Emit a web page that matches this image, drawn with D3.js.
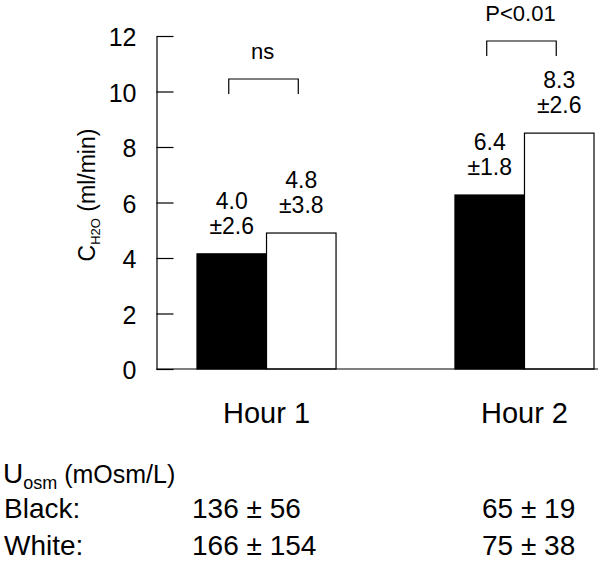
<!DOCTYPE html>
<html>
<head>
<meta charset="utf-8">
<script src="https://cdn.jsdelivr.net/npm/d3@7"></script>
<style>
  body { margin: 0; background: #fff; }
  svg { display: block; font-family: "Liberation Sans", Arial, sans-serif; }
</style>
</head>
<body>
<svg id="chart" width="600" height="562"></svg>
<script>
// chart values
var hours = ["Hour 1", "Hour 2"];
var groups = ["Black", "White"];
var barBlack = [4.15, 6.27];
var barWhite = [4.9, 8.5];
var meanLabels = [["4.0", "4.8"], ["6.4", "8.3"]];
var sdLabels = [["±2.6", "±3.8"], ["±1.8", "±2.6"]];
var sigLabels = ["ns", "P<0.01"];
var sigLevels = [10.45, 11.82];
var yTicks = [0, 2, 4, 6, 8, 10, 12];

// urine osmolality table
var uosmRows = ["Black:", "White:"];
var uosmHour1 = ["136 ± 56", "166 ± 154"];
var uosmHour2 = ["65 ± 19", "75 ± 38"];

var svg = d3.select("#chart");

var y = d3.scaleLinear().domain([0, 12]).range([369, 36]);
var x0 = d3.scaleBand().domain(hours).range([197, 594]).paddingInner(0.461).paddingOuter(0);
var x1 = d3.scaleBand().domain(groups).range([0, x0.bandwidth()]).padding(0);

var data = hours.map(function (h, i) {
	return { hour: h, i: i, vals: [barBlack[i], barWhite[i]] };
});
function cells(d) {
	return d.vals.map(function (v, j) { return { g: groups[j], v: v, i: d.i, j: j }; });
}

// y axis, ticks pointing inward
var yAxis = svg.append("g")
	.attr("transform", "translate(156.5,0)")
	.call(d3.axisLeft(y).tickValues(yTicks).tickSizeInner(-17).tickSizeOuter(0).tickPadding(20));
yAxis.select(".domain").attr("stroke", "#000").attr("stroke-width", 1.2);
yAxis.selectAll(".tick line").attr("stroke", "#000").attr("stroke-width", 1.2);
yAxis.selectAll(".tick text")
	.attr("fill", "#000")
	.attr("font-size", 25)
	.attr("font-family", "Liberation Sans, Arial, sans-serif")
	.attr("dy", "0.38em");

// y label
var ylab = svg.append("text")
	.attr("transform", "translate(95,195) rotate(-90)")
	.attr("text-anchor", "middle")
	.attr("font-size", 23)
	.attr("fill", "#000");
ylab.append("tspan").text("C");
ylab.append("tspan").attr("font-size", 13).attr("dy", 5).text("H2O");
ylab.append("tspan").attr("dy", -5).text(" (ml/min)");

// bars
var gHour = svg.selectAll(".hour")
	.data(data)
	.enter().append("g")
	.attr("class", "hour")
	.attr("transform", function (d) { return "translate(" + x0(d.hour) + ",0)"; });

gHour.selectAll("rect")
	.data(cells)
	.enter().append("rect")
	.attr("x", function (d) { return x1(d.g); })
	.attr("y", function (d) { return y(d.v); })
	.attr("width", x1.bandwidth())
	.attr("height", function (d) { return y(0) - y(d.v); })
	.attr("fill", function (d) { return d.g === "Black" ? "#000" : "#fff"; })
	.attr("stroke", "#000")
	.attr("stroke-width", 1.2);

// mean / sd labels above bars
gHour.selectAll(".sd")
	.data(cells)
	.enter().append("text")
	.attr("class", "sd")
	.attr("x", function (d) { return x1(d.g) + x1.bandwidth() / 2; })
	.attr("y", function (d) { return y(d.v) - 20; })
	.attr("text-anchor", "middle")
	.attr("font-size", 23)
	.attr("fill", "#000")
	.text(function (d) { return sdLabels[d.i][d.j]; });
gHour.selectAll(".mean")
	.data(cells)
	.enter().append("text")
	.attr("class", "mean")
	.attr("x", function (d) { return x1(d.g) + x1.bandwidth() / 2; })
	.attr("y", function (d) { return y(d.v) - 45; })
	.attr("text-anchor", "middle")
	.attr("font-size", 23)
	.attr("fill", "#000")
	.text(function (d) { return meanLabels[d.i][d.j]; });

// significance brackets
gHour.append("path")
	.attr("fill", "none")
	.attr("stroke", "#000")
	.attr("stroke-width", 1.2)
	.attr("d", function (d) {
		var a = x1("Black") + x1.bandwidth() / 2 - 3,
			b = x1("White") + x1.bandwidth() / 2 - 3,
			yy = y(sigLevels[d.i]);
		return "M" + a + "," + (yy + 15) + "V" + yy + "H" + b + "V" + (yy + 15);
	});
gHour.append("text")
	.attr("x", x0.bandwidth() / 2 - 4)
	.attr("y", function (d) { return y(sigLevels[d.i]) - 20; })
	.attr("text-anchor", "middle")
	.attr("font-size", 22)
	.attr("fill", "#000")
	.text(function (d) { return sigLabels[d.i]; });

// x baseline
svg.append("line")
	.attr("x1", 156.5).attr("x2", 598)
	.attr("y1", y(0)).attr("y2", y(0))
	.attr("stroke", "#000").attr("stroke-width", 1.2);

// hour labels
svg.selectAll(".hourlbl")
	.data(hours)
	.enter().append("text")
	.attr("class", "hourlbl")
	.attr("x", function (h) { return x0(h) + x0.bandwidth() / 2; })
	.attr("y", 423)
	.attr("text-anchor", "middle")
	.attr("font-size", 29)
	.attr("fill", "#000")
	.text(function (h) { return h; });

// U osm table
var uh = svg.append("text").attr("x", 3).attr("y", 483).attr("fill", "#000").attr("font-size", 28);
uh.append("tspan").text("U");
uh.append("tspan").attr("font-size", 18).attr("dy", 6).text("osm");
uh.append("tspan").attr("font-size", 25).attr("dy", -6).text(" (mOsm/L)");

var rowY = [518, 555];
uosmRows.forEach(function (r, i) {
	svg.append("text").attr("x", 4).attr("y", rowY[i]).attr("font-size", 28).attr("fill", "#000").text(r);
	svg.append("text").attr("x", 192).attr("y", rowY[i]).attr("font-size", 28).attr("fill", "#000").text(uosmHour1[i]);
	svg.append("text").attr("x", 482).attr("y", rowY[i]).attr("font-size", 28).attr("fill", "#000").text(uosmHour2[i]);
});
</script>
</body>
</html>
